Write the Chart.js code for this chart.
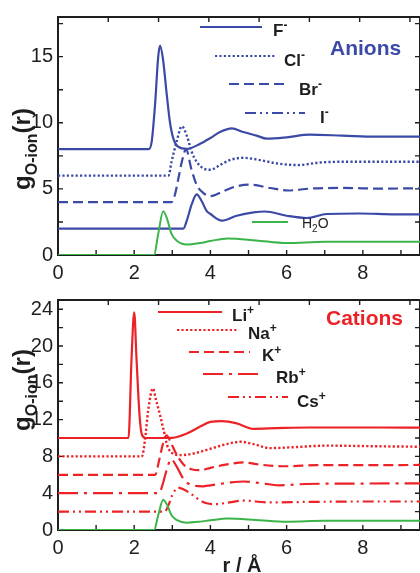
<!DOCTYPE html>
<html>
<head>
<meta charset="utf-8">
<script src="https://cdn.jsdelivr.net/npm/chart.js@4/dist/chart.umd.min.js"></script>
<style>
  html, body { margin: 0; padding: 0; background: #fff; overflow: hidden; width: 420px; height: 573px; }
  canvas { position: absolute; left: 0; }
  #top { top: 0; }
  #bot { top: 283px; }
</style>
</head>
<body>
<canvas id="top" width="422" height="283"></canvas>
<canvas id="bot" width="422" height="290"></canvas>
<script>
'use strict';

/* g(r) O–ion, valores sin desplazar; cada curva se dibuja sumando su offset */
const rF  = [0, 2.38, 2.46, 2.55, 2.63, 2.68, 2.76, 2.85, 2.94, 3.03, 3.16, 3.38, 3.73, 4.0, 4.25, 4.56, 4.86, 5.21, 5.48, 6.0, 6.6, 7.46, 8.36, 9.5];
const gF  = [0, 0, 0.6, 3.5, 7.0, 7.84, 6.7, 4.25, 2.0, 0.78, 0.17, 0.02, 0.41, 0.85, 1.3, 1.58, 1.3, 1.03, 0.8, 0.9, 1.1, 1.03, 0.95, 0.95];
const rCl = [0, 2.9, 2.98, 3.11, 3.25, 3.38, 3.51, 3.64, 3.81, 4.0, 4.25, 4.51, 4.86, 5.3, 5.74, 6.3, 6.88, 7.6, 8.5, 9.5];
const gCl = [0, 0, 1.05, 2.54, 3.73, 3.03, 1.8, 1.05, 0.56, 0.45, 0.8, 1.18, 1.35, 1.18, 0.93, 0.8, 1.0, 1.05, 1.05, 1.05];
const rBr = [0, 2.98, 3.07, 3.16, 3.25, 3.36, 3.5, 3.64, 3.81, 4.0, 4.34, 4.69, 5.04, 5.56, 6.04, 6.61, 7.46, 8.5, 9.5];
const gBr = [0, 0, 0.58, 1.8, 3.05, 4.0, 2.5, 1.3, 0.7, 0.45, 0.83, 1.2, 1.32, 1.07, 0.88, 1.02, 1.07, 1.02, 1.05];
const rI  = [0, 3.29, 3.38, 3.51, 3.64, 3.77, 3.9, 4.0, 4.3, 4.69, 5.13, 5.43, 6.0, 6.53, 7.05, 7.9, 8.86, 9.5];
const gI  = [0, 0, 0.6, 1.84, 2.58, 2.08, 1.34, 1.1, 0.6, 0.97, 1.22, 1.29, 0.97, 0.8, 1.1, 1.14, 1.07, 1.08];
const rW  = [0, 2.52, 2.63, 2.76, 2.85, 2.98, 3.11, 3.38, 3.73, 4.0, 4.45, 5.2, 6.0, 7.0, 8.0, 9.5];
const gW  = [0, 0, 1.6, 3.3, 2.84, 1.6, 1.1, 0.8, 0.91, 1.06, 1.25, 1.1, 0.9, 1.0, 1.0, 1.0];

const rLi = [0, 1.85, 1.93, 2.0, 2.06, 2.14, 2.2, 2.3, 3.0, 3.38, 3.73, 4.0, 4.3, 4.69, 5.13, 5.74, 6.6, 8.36, 9.5];
const gLi = [0, 0, 8.65, 13.66, 8.65, 2.45, 0.4, 0, 0.02, 0.48, 1.24, 1.76, 1.83, 1.59, 1.0, 1.07, 1.14, 1.14, 1.12];
const rNa = [0, 2.2, 2.28, 2.37, 2.49, 2.57, 2.68, 2.76, 2.9, 3.2, 3.55, 4.0, 4.43, 4.78, 5.13, 5.56, 6.18, 7.05, 8.36, 9.5];
const gNa = [0, 0, 1.69, 5.1, 7.38, 6.17, 4.45, 3.07, 0.83, 0.14, 0.31, 0.83, 1.34, 1.59, 1.34, 0.9, 1.0, 1.17, 1.1, 1.05];
const rK  = [0, 2.55, 2.65, 2.75, 2.85, 2.95, 3.1, 3.3, 3.5, 3.73, 4.0, 4.4, 4.87, 5.3, 6.0, 6.8, 8.0, 9.5];
const gK  = [0, 0, 1.5, 3.3, 4.3, 3.6, 2.3, 1.1, 0.6, 0.5, 0.76, 1.1, 1.34, 1.1, 0.93, 1.05, 1.05, 1.07];
const rRb = [0, 2.65, 2.75, 2.85, 2.97, 3.1, 3.3, 3.5, 3.8, 4.0, 4.5, 4.87, 5.3, 5.8, 6.5, 8.0, 9.5];
const gRb = [0, 0, 1.0, 2.5, 3.7, 3.0, 1.5, 0.9, 0.75, 0.86, 1.15, 1.27, 1.1, 0.86, 1.0, 1.05, 1.07];
const rCs = [0, 2.8, 2.9, 3.0, 3.15, 3.3, 3.5, 3.7, 3.9, 4.1, 4.5, 4.87, 5.5, 6.5, 8.0, 9.5];
const gCs = [0, 0, 0.7, 1.8, 2.6, 2.4, 1.9, 1.3, 0.9, 0.8, 1.0, 1.2, 1.0, 1.05, 1.1, 1.1];

const anionOffsets  = [8, 6, 4, 2, 0];     // F, Cl, Br, I, H2O
const cationOffsets = [10, 8, 6, 4, 2, 0]; // Li, Na, K, Rb, Cs, H2O

const xTicksMajor = 2;
const yMajorTop = 5, yMinorTop = 2.5;
const yMajorBot = 4, yMinorBot = 2;

/* estilo */
const FONT = '"Liberation Sans", Arial, Helvetica, sans-serif';
const BLUE = '#3b4aa6', RED = '#ec2227', GREEN = '#3bb44a', INK = '#1e1e1e';
Chart.defaults.font.family = FONT;
Chart.defaults.animation = false;

const DOT = [2.2, 2.2], DASH = [10, 5], DASHDOT2 = [11, 4, 2, 4, 2, 4], LONGDASHDOT = [20, 6, 3, 6];

const pts = (r, g, off) => r.map((x, i) => ({ x, y: g[i] + off }));
const line = (r, g, off, color, dash = [], w = 2.2) => ({
  data: pts(r, g, off), borderColor: color, borderWidth: w, borderDash: dash,
  pointRadius: 0, cubicInterpolationMode: 'monotone', fill: false,
});

/* texto con sub/superíndices: parts = [[texto, 0|1(sub)|-1(sup)], ...] */
function rich(ctx, parts, x, y, size, weight = 'normal', align = 'left') {
  const f = s => `${weight} ${s ? Math.round(size * 0.68) : size}px ${FONT}`;
  let w = 0;
  parts.forEach(([t, s]) => { ctx.font = f(s); w += ctx.measureText(t).width; });
  let cx = align === 'center' ? x - w / 2 : x;
  parts.forEach(([t, s]) => {
    ctx.font = f(s);
    ctx.fillText(t, cx, y + (s === 1 ? size * 0.28 : s === -1 ? -size * 0.4 : 0));
    cx += ctx.measureText(t).width;
  });
}

/* marco y marcas de graduación hacia dentro */
const frame = {
  id: 'frame',
  beforeDatasetsDraw(chart) {
    const { ctx, chartArea: a, scales } = chart;
    const L = 5;
    ctx.save();
    ctx.strokeStyle = INK; ctx.lineWidth = 1.4;
    ctx.beginPath();
    scales.x.ticks.forEach(t => { const p = scales.x.getPixelForValue(t.value); ctx.moveTo(p, a.bottom); ctx.lineTo(p, a.bottom - L); });
    scales.x2.ticks.forEach(t => { const p = scales.x2.getPixelForValue(t.value); ctx.moveTo(p, a.top); ctx.lineTo(p, a.top + L); });
    scales.y.ticks.forEach(t => {
      const p = scales.y.getPixelForValue(t.value);
      ctx.moveTo(a.left, p); ctx.lineTo(a.left + L, p);
      ctx.moveTo(a.right, p); ctx.lineTo(a.right - L, p);
    });
    ctx.stroke();
    ctx.lineWidth = 2;
    ctx.strokeRect(a.left, a.top, a.right - a.left, a.bottom - a.top);
    ctx.restore();
  },
};

/* leyenda escalonada, títulos */
const annot = {
  id: 'annot',
  afterDraw(chart, _a, o) {
    const { ctx } = chart;
    ctx.save();
    ctx.textBaseline = 'alphabetic';
    o.legend.forEach(e => {
      ctx.strokeStyle = e.color; ctx.lineWidth = 2.2; ctx.setLineDash(e.dash || []);
      ctx.beginPath(); ctx.moveTo(e.x0, e.y); ctx.lineTo(e.x1, e.y); ctx.stroke();
      ctx.setLineDash([]);
      ctx.fillStyle = INK;
      rich(ctx, e.text, e.tx, e.ty, e.size || 17, e.weight || 'bold');
    });
    ctx.fillStyle = o.titleColor;
    ctx.font = `bold 21px ${FONT}`;
    ctx.fillText(o.title, o.tx, o.ty);
    // eje y
    ctx.fillStyle = INK;
    ctx.translate(o.yx, o.yy);
    ctx.rotate(-Math.PI / 2);
    rich(ctx, [['g', 0], ['O-ion', 1], ['(r)', 0]], 0, 0, 24, 'bold', 'center');
    ctx.setTransform(1, 0, 0, 1, 0, 0);
    if (o.xTitle) {
      ctx.font = `bold 20px ${FONT}`;
      ctx.textAlign = 'center';
      ctx.fillText(o.xTitle, o.xx, o.xy);
    }
    ctx.restore();
  },
};

function scalesFor(yMax, yMinor, yMajor, xHeight) {
  return {
    x: {
      type: 'linear', position: 'bottom', min: 0, max: 9.5,
      grid: { display: false, drawTicks: false }, border: { display: false },
      ticks: { stepSize: 1, includeBounds: false, autoSkip: false, maxRotation: 0, padding: 6,
               color: INK, font: { size: 20 }, callback: v => (v % xTicksMajor === 0 ? v : '') },
      afterFit: s => { s.height = xHeight; },
    },
    x2: {
      type: 'linear', position: 'top', min: 0, max: 7.2,
      grid: { display: false, drawTicks: false }, border: { display: false },
      ticks: { display: false, stepSize: 1, includeBounds: false },
      afterFit: s => { s.height = 0; },
    },
    y: {
      min: 0, max: yMax,
      grid: { display: false, drawTicks: false }, border: { display: false },
      ticks: { stepSize: yMinor, includeBounds: false, autoSkip: false, padding: 5,
               color: INK, font: { size: 20 }, callback: v => (v % yMajor === 0 ? v : '') },
      afterFit: s => { s.width = 58; },
    },
  };
}

const base = (padTop) => ({
  responsive: false, maintainAspectRatio: false,
  layout: { padding: { top: padTop, right: 2, left: 0, bottom: 0 } },
  plugins: { legend: { display: false }, tooltip: { enabled: false } },
});

/* aniones */
new Chart(document.getElementById('top'), {
  type: 'line',
  data: { datasets: [
    line(rW, gW, anionOffsets[4], GREEN, [], 2),
    line(rI, gI, anionOffsets[3], BLUE),
    line(rBr, gBr, anionOffsets[2], BLUE, DASH),
    line(rCl, gCl, anionOffsets[1], BLUE, DOT, 2.4),
    line(rF, gF, anionOffsets[0], BLUE),
  ] },
  options: {
    ...base(12.5),
    scales: scalesFor(18, yMinorTop, yMajorTop, 28),
    plugins: {
      legend: { display: false }, tooltip: { enabled: false },
      annot: {
        title: 'Anions', titleColor: BLUE, tx: 330, ty: 55,
        yx: 30, yy: 149,
        legend: [
          { color: BLUE, x0: 200, x1: 262, y: 27, tx: 273, ty: 36, text: [['F', 0], ['-', -1]] },
          { color: BLUE, dash: DOT, x0: 215, x1: 275, y: 56, tx: 284, ty: 66, text: [['Cl', 0], ['-', -1]] },
          { color: BLUE, dash: DASH, x0: 229, x1: 289, y: 84, tx: 299, ty: 95, text: [['Br', 0], ['-', -1]] },
          { color: BLUE, dash: DASHDOT2, x0: 245, x1: 305, y: 113, tx: 320, ty: 123, text: [['I', 0], ['-', -1]] },
          { color: GREEN, x0: 252, x1: 288, y: 222, tx: 302, ty: 228, size: 14, weight: 'normal', text: [['H', 0], ['2', 1], ['O', 0]] },
        ],
      },
    },
  },
  plugins: [frame, annot],
});

/* cationes */
new Chart(document.getElementById('bot'), {
  type: 'line',
  data: { datasets: [
    line(rW, gW, cationOffsets[5], GREEN, [], 2),
    line(rCs, gCs, cationOffsets[4], RED, DASHDOT2),
    line(rRb, gRb, cationOffsets[3], RED, LONGDASHDOT),
    line(rK, gK, cationOffsets[2], RED, DASH),
    line(rNa, gNa, cationOffsets[1], RED, DOT, 2.4),
    line(rLi, gLi, cationOffsets[0], RED),
  ] },
  options: {
    ...base(5),
    scales: scalesFor(25, yMinorBot, yMajorBot, 43),
    plugins: {
      legend: { display: false }, tooltip: { enabled: false },
      annot: {
        title: 'Cations', titleColor: RED, tx: 326, ty: 42,
        yx: 30, yy: 107,
        xTitle: 'r / Å', xx: 242, xy: 289,
        legend: [
          { color: RED, x0: 158, x1: 222, y: 29, tx: 232, ty: 38, text: [['Li', 0], ['+', -1]] },
          { color: RED, dash: DOT, x0: 177, x1: 237, y: 47, tx: 248, ty: 56, text: [['Na', 0], ['+', -1]] },
          { color: RED, dash: DASH, x0: 189, x1: 250, y: 69, tx: 262, ty: 78, text: [['K', 0], ['+', -1]] },
          { color: RED, dash: LONGDASHDOT, x0: 203, x1: 263, y: 91, tx: 276, ty: 100, text: [['Rb', 0], ['+', -1]] },
          { color: RED, dash: DASHDOT2, x0: 228, x1: 288, y: 114, tx: 297, ty: 124, text: [['Cs', 0], ['+', -1]] },
        ],
      },
    },
  },
  plugins: [frame, annot],
});
</script>
</body>
</html>
